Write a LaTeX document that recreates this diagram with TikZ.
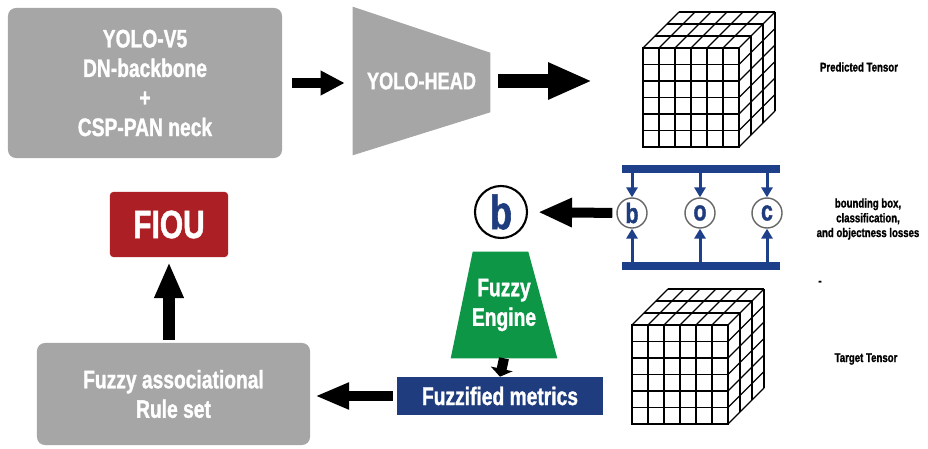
\documentclass[tikz,border=0pt]{standalone}
\usepackage{fontspec}
\newfontfamily\condfont{Liberation Sans}[FakeStretch=0.76,BoldFeatures={FakeBold=1.2}]
\usepackage{tikz}
\usetikzlibrary{arrows.meta}
\usetikzlibrary{positioning}
\usetikzlibrary{calc}
\usetikzlibrary{backgrounds}
\definecolor{boxgray}{HTML}{A6A6A6}
\definecolor{fiored}{HTML}{AC1F24}
\definecolor{engreen}{HTML}{0C9646}
\definecolor{metblue}{HTML}{1F3D7E}
\definecolor{barblue}{HTML}{1E3F8A}
\tikzstyle{graybox}=[fill=boxgray,rounded corners=0.2cm,text=white,align=center,font=\condfont\bfseries\fontsize{18}{21}\selectfont]
\tikzstyle{lossring}=[circle,draw=black!60,line width=1pt,fill=white,minimum size=0.75cm,inner sep=0pt,text=metblue,font=\condfont\bfseries\fontsize{20}{20}\selectfont]
\tikzstyle{bluebar}=[fill=barblue,minimum width=3.95cm,minimum height=0.2cm,inner sep=0pt]
\tikzstyle{note}=[align=center,font=\condfont\bfseries\fontsize{9}{10.5}\selectfont]
\tikzstyle{grid}=[thick]
\tikzset{tensor/.pic={
  \draw[grid] (0,0) rectangle (96,99);
  \foreach \i in {1,...,5} {
    \draw[grid] (16*\i,0) -- (16*\i,99);
    \draw[grid] (0,16.5*\i) -- (96,16.5*\i);
  }
  % top face
  \foreach \i in {0,...,6} \draw[grid] (16*\i,0) -- ++(36,-36);
  \foreach \j in {1,2,3} \draw[grid] (12*\j,-12*\j) -- ++(96,0);
  % right face
  \foreach \j in {1,2,3} \draw[grid] (96+12*\j,-12*\j) -- ++(0,99);
  \foreach \i in {1,...,6} \draw[grid] (96,16.5*\i) -- ++(36,-36);
  \coordinate (-w) at (0,49.5);
}}

\begin{document}
\begin{tikzpicture}[x=0.025cm,y=-0.025cm]
\useasboundingbox (0,0) rectangle (928,448);

% top row
\node[graybox,minimum width=6.85cm,minimum height=3.75cm] (yolo) at (145,83)
  {YOLO-V5\\DN-backbone\\+\\CSP-PAN neck};
\node[text=white,minimum width=3.425cm,minimum height=3.7cm,font=\condfont\bfseries\fontsize{17}{20}\selectfont] (head) at (421.5,81) {YOLO-HEAD};
\begin{scope}[on background layer]
\fill[boxgray] (head.north west) -- ($(head.north east)+(0,46)$) -- ($(head.south east)+(0,-43)$) -- (head.south west) -- cycle;
\end{scope}
\pic (pc) at (643,48) {tensor};
\node[note,font=\condfont\bfseries\fontsize{9}{10}\selectfont] (pred) at (859,67) {Predicted Tensor};

\draw[line width=0.25cm,-{Triangle[length=0.6cm,width=0.58cm]},shorten <=0.25cm,shorten >=0.2cm] (yolo.east) -- (yolo.east -| head.west);
\draw[line width=0.37cm,-{Triangle[length=1.1cm,width=0.85cm]},shorten <=0.2cm,shorten >=1.27cm] (head.east) -- (head.east -| pc-w);

% losses
\node[bluebar] (topbar) at (701,169) {};
\node[bluebar] (botbar) at (701,266) {};
\node[lossring] (lb) at (632,213) {b};
\node[lossring] (lo) at (700,213) {o};
\node[lossring] (lc) at (767,213) {c};
\foreach \n in {lb,lo,lc} {
  \draw[barblue,line width=0.075cm,-{Triangle[length=0.25cm,width=0.28cm]}] (topbar.south -| \n) -- (\n.north);
  \draw[barblue,line width=0.075cm,-{Triangle[length=0.25cm,width=0.28cm]}] (botbar.north -| \n) -- (\n.south);
}
\node[note] (loss) at (868,219) {bounding box,\\classification,\\and objectness losses};
\node[note] (dash) at (820,283) {-};

\node[circle,draw=black,line width=1.5pt,fill=white,minimum size=1.3cm,inner sep=0pt,text=metblue,font=\condfont\bfseries\fontsize{34}{34}\selectfont] (bigb) at (501,212) {b};
\draw[line width=0.25cm,-{Triangle[length=0.85cm,width=0.68cm]},shorten <=0.1cm,shorten >=0.25cm] (lb.west) -- (bigb.east);

% fuzzy part
\node[text=white,align=center,minimum width=2.65cm,minimum height=2.65cm,font=\condfont\bfseries\fontsize{18}{21}\selectfont] (engine) at (504,305) {Fuzzy\\Engine};
\begin{scope}[on background layer]
\fill[engreen] ($(engine.north west)+(22,0)$) -- ($(engine.north east)+(-29,0)$) -- (engine.south east) -- (engine.south west) -- cycle;
\end{scope}
\node[fill=metblue,text=white,minimum width=5.15cm,minimum height=0.95cm,inner sep=0pt,font=\condfont\bfseries\fontsize{18}{21}\selectfont] (metrics) at (500,396) {Fuzzified metrics};
\draw[line width=0.25cm,-{Triangle[length=0.2cm,width=0.55cm]}] (engine.south) -- (metrics.north);

\pic (tc) at (632,325) {tensor};
\node[note,font=\condfont\bfseries\fontsize{9}{10}\selectfont] (target) at (866,359) {Target Tensor};

\node[graybox,minimum width=6.825cm,minimum height=2.55cm] (rules) at (173.5,394) {Fuzzy associational\\Rule set};
\node[fill=fiored,rounded corners=0.08cm,text=white,minimum width=2.95cm,minimum height=1.625cm,font=\condfont\bfseries\fontsize{28}{28}\selectfont] (fiou) at (169,224.5) {FIOU};

\draw[line width=0.27cm,-{Triangle[length=0.85cm,width=0.62cm]},shorten <=0.1cm,shorten >=0.12cm] (metrics.west) -- (metrics.west -| rules.east);
\draw[line width=0.32cm,-{Triangle[length=0.9cm,width=0.68cm]},shorten <=0.08cm,shorten >=0.12cm] (fiou.south |- rules.north) -- (fiou.south);
\end{tikzpicture}
\end{document}
